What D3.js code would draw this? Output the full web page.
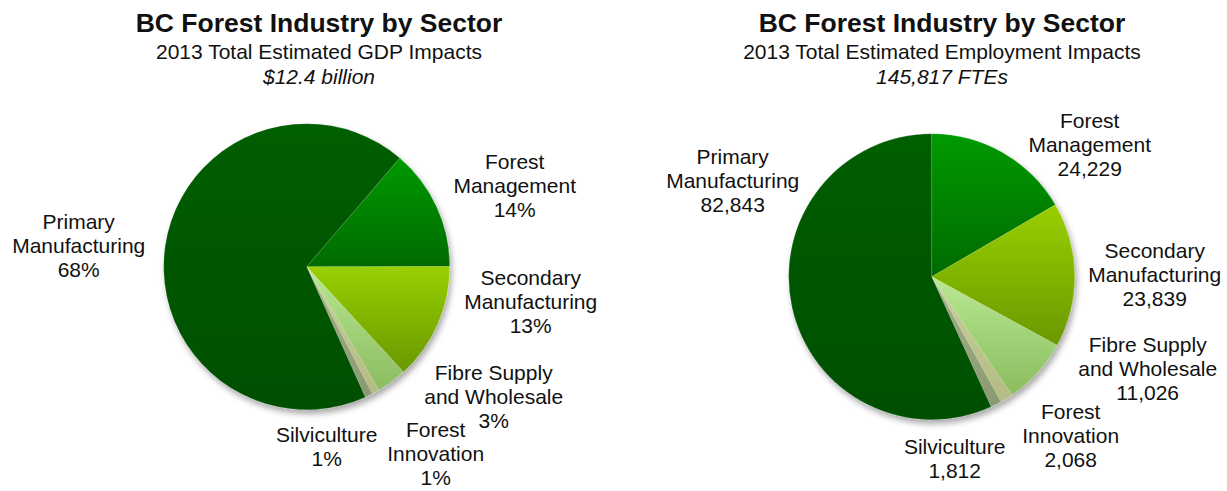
<!DOCTYPE html>
<html><head><meta charset="utf-8">
<script src="https://cdn.jsdelivr.net/npm/d3@7"></script>
<style>
body{margin:0;background:#fff}
svg{display:block}
text{font-family:"Liberation Sans",Arial,Helvetica,sans-serif;fill:#111}
</style>
</head><body>
<svg id="c" width="1227" height="491"></svg>
<script>
// ---------- DATA ----------
const categories = ["Forest Management","Secondary Manufacturing","Fibre Supply and Wholesale","Forest Innovation","Silviculture","Primary Manufacturing"];
const labelLines = [["Forest","Management"],["Secondary","Manufacturing"],["Fibre Supply","and Wholesale"],["Forest","Innovation"],["Silviculture"],["Primary","Manufacturing"]];
const gdpShare = [13.7, 13.2, 3.4, 0.85, 0.85, 68.0];            // % of $12.4 billion (estimated)
const gdpLabels = ["14%","13%","3%","1%","1%","68%"];
const employment = [24229, 23839, 11026, 2068, 1812, 82843];     // FTEs
const employmentLabels = ["24,229","23,839","11,026","2,068","1,812","82,843"];
const chartTitle = "BC Forest Industry by Sector";
const subtitles = ["2013 Total Estimated GDP Impacts","2013 Total Estimated Employment Impacts"];
const totals = ["$12.4 billion","145,817 FTEs"];

// ---------- STYLE / LAYOUT ----------
const colorTop    = ["#009a00","#98d000","#b8e890","#c8d09a","#a2b088","#045e04"];
const colorBottom = ["#006a00","#6a9800","#8cbc60","#b4bc84","#8a9a70","#004f00"];
const R = 143, lineH = 24.3;
const charts = [
  { cx: 306.7, cy: 266.7, start: 40.6, values: gdpShare, labels: gdpLabels, titleX: 319,
    // label anchor offsets (dx, dy of first baseline) relative to pie centre
    offs: [[208,-98],[224,18],[187,113],[129,170],[20,175],[-228,-38]] },
  { cx: 931.7, cy: 276.7, start: 0, values: employment, labels: employmentLabels, titleX: 942,
    offs: [[158,-149],[223,-19],[216,75],[139,142],[23,177],[-199,-113]] }
];

const svg = d3.select("#c");
const defs = svg.append("defs");
const f = defs.append("filter").attr("id","sh").attr("x","-20%").attr("y","-20%").attr("width","140%").attr("height","140%");
f.append("feGaussianBlur").attr("in","SourceAlpha").attr("stdDeviation",3);
f.append("feOffset").attr("dx",2).attr("dy",4).attr("result","b");
f.append("feComponentTransfer").append("feFuncA").attr("type","linear").attr("slope",0.35);
const fm = f.append("feMerge"); fm.append("feMergeNode"); fm.append("feMergeNode").attr("in","SourceGraphic");

categories.forEach((c,i)=>{
  const g = defs.append("linearGradient").attr("id","g"+i).attr("x1",0).attr("y1",0).attr("x2",0).attr("y2",1);
  g.append("stop").attr("offset","0%").attr("stop-color",colorTop[i]);
  g.append("stop").attr("offset","100%").attr("stop-color",colorBottom[i]);
});

const arc = d3.arc().innerRadius(0).outerRadius(R);
const rad = d => d*Math.PI/180;

charts.forEach((ch,ci)=>{
  const pie = d3.pie().sort(null).value(d=>d)
    .startAngle(rad(ch.start)).endAngle(rad(ch.start)+2*Math.PI);
  const arcs = pie(ch.values);
  const g = svg.append("g").attr("transform",`translate(${ch.cx},${ch.cy})`);
  g.append("g").attr("filter","url(#sh)")
    .selectAll("path").data(arcs).join("path")
    .attr("d",arc)
    .attr("fill",(d,i)=>`url(#g${i})`)
    .attr("stroke","rgba(255,255,255,0.25)").attr("stroke-width",0.5);

  // labels
  arcs.forEach((a,i)=>{
    const lines = labelLines[i].concat([ch.labels[i]]);
    const t = g.append("text").attr("text-anchor","middle").attr("font-size",21)
      .attr("x",ch.offs[i][0]).attr("y",ch.offs[i][1]);
    lines.forEach((l,k)=>t.append("tspan").attr("x",ch.offs[i][0]).attr("dy",k?lineH:0).text(l));
  });

  // titles
  svg.append("text").attr("x",ch.titleX).attr("y",32).attr("text-anchor","middle")
    .attr("font-size",26.5).attr("font-weight","bold").text(chartTitle);
  svg.append("text").attr("x",ch.titleX).attr("y",59).attr("text-anchor","middle")
    .attr("font-size",21).text(subtitles[ci]);
  svg.append("text").attr("x",ch.titleX).attr("y",84).attr("text-anchor","middle")
    .attr("font-size",21).attr("font-style","italic").text(totals[ci]);
});
</script>
</body></html>
